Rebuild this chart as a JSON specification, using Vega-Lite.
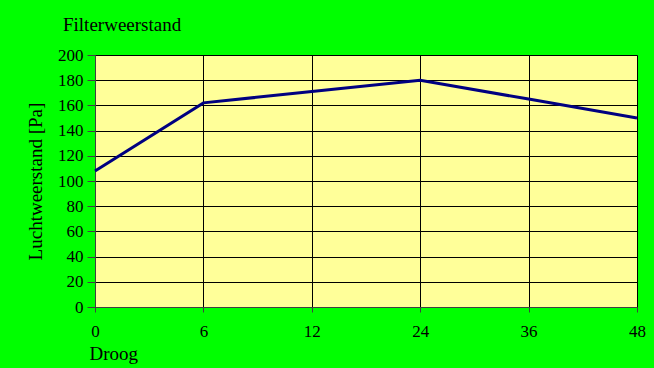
{
  "$schema": "https://vega.github.io/schema/vega-lite/v6.json",
  "autosize": {"type": "none"},
  "width": 542,
  "height": 252,
  "padding": {"left": 95, "top": 55, "right": 17, "bottom": 61},
  "background": "#00FF00",
  "title": {
    "text": "Filterweerstand",
    "anchor": "start",
    "frame": "group",
    "dx": -32,
    "offset": 11,
    "font": "Liberation Serif",
    "fontSize": 19,
    "fontWeight": "normal",
    "color": "black"
  },
  "config": {
    "view": {"fill": "#FFFF99", "stroke": "#606060", "strokeWidth": 1},
    "font": "Liberation Serif"
  },
  "data": {
    "values": [
      {"tijd": 0, "weerstand": 108},
      {"tijd": 6, "weerstand": 162},
      {"tijd": 12, "weerstand": 171},
      {"tijd": 24, "weerstand": 180},
      {"tijd": 36, "weerstand": 165},
      {"tijd": 48, "weerstand": 150}
    ]
  },
  "mark": {"type": "line", "color": "#000080", "strokeWidth": 3},
  "encoding": {
    "x": {
      "field": "tijd",
      "type": "ordinal",
      "scale": {"type": "point", "padding": 0},
      "axis": {
        "title": "Droog",
        "titleAnchor": "start",
        "titleAlign": "left",
        "titleX": -6,
        "titleFont": "Liberation Serif",
        "titleFontSize": 19,
        "titleFontWeight": "normal",
        "titleColor": "black",
        "titlePadding": 5,
        "labelAngle": 0,
        "labelFont": "Liberation Serif",
        "labelFontSize": 17,
        "labelColor": "black",
        "labelPadding": 11,
        "tickSize": 5,
        "tickColor": "#404040",
        "domainColor": "#404040",
        "grid": true,
        "gridColor": "black",
        "gridOpacity": 1
      }
    },
    "y": {
      "field": "weerstand",
      "type": "quantitative",
      "scale": {"domain": [0, 200], "nice": false},
      "axis": {
        "title": "Luchtweerstand [Pa]",
        "titleFont": "Liberation Serif",
        "titleFontSize": 19,
        "titleFontWeight": "normal",
        "titleColor": "black",
        "titlePadding": 12,
        "values": [0, 20, 40, 60, 80, 100, 120, 140, 160, 180, 200],
        "labelFont": "Liberation Serif",
        "labelFontSize": 17,
        "labelColor": "black",
        "labelPadding": 4,
        "tickSize": 8,
        "tickColor": "#404040",
        "domainColor": "#404040",
        "grid": true,
        "gridColor": "black",
        "gridOpacity": 1
      }
    }
  }
}
